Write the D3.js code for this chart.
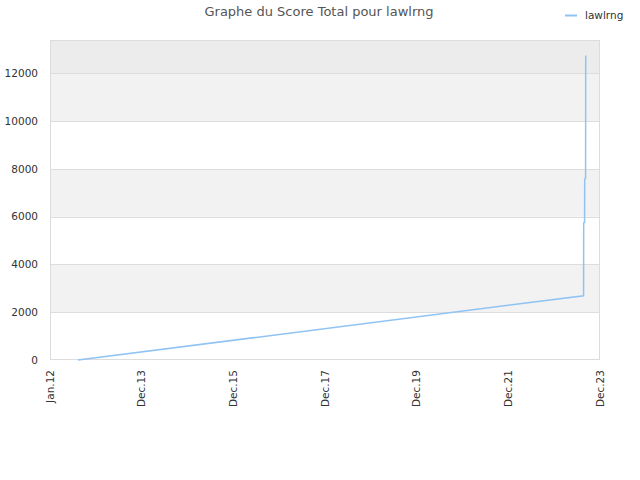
<!DOCTYPE html>
<html><head><meta charset="utf-8">
<script src="https://cdn.jsdelivr.net/npm/d3@7"></script>
<style>body{margin:0;background:#fff}svg{display:block;font-family:"DejaVu Sans",sans-serif}</style>
</head><body><svg id="c" width="640" height="480"></svg>
<script>
const title = "Graphe du Score Total pour lawlrng";
const seriesName = "lawlrng";
const dates = ["2012-08-09","2023-07-24","2023-07-25","2023-08-01","2023-08-02","2023-08-09","2023-08-10"];
const scores = [0, 2690, 5740, 5760, 7570, 7600, 12750];
const xDomain = ["2012-01-01","2023-12-01"];
const xTickLabels = ["Jan.12","Dec.13","Dec.15","Dec.17","Dec.19","Dec.21","Dec.23"];
const yTicks = [0,2000,4000,6000,8000,10000,12000];
const yMax = 13400;

const svg = d3.select("#c");
const L=50,R=600,T=40,B=360;
const parse = d3.timeParse("%Y-%m-%d");
const x = d3.scaleTime().domain(xDomain.map(parse)).range([L,R]);
const y = d3.scaleLinear().domain([0,yMax]).range([B,T]);

// bands
const bandEdges = yTicks.concat([yMax]);
for(let i=0;i<bandEdges.length-1;i++){
  let fill = i%2===1 ? "#f2f2f2" : "#ffffff";
  if(i===bandEdges.length-2) fill="#ececec";
  svg.append("rect").attr("x",L).attr("width",R-L)
    .attr("y",y(bandEdges[i+1])).attr("height",y(bandEdges[i])-y(bandEdges[i+1])).attr("fill",fill);
}
// grid
svg.append("g").selectAll("line").data(yTicks.slice(1)).join("line")
  .attr("x1",L).attr("x2",R).attr("y1",d=>Math.round(y(d))+0.5).attr("y2",d=>Math.round(y(d))+0.5)
  .attr("stroke","#dddddd");
// border
svg.append("rect").attr("x",L+0.5).attr("y",T+0.5).attr("width",R-L-1).attr("height",B-T-1)
  .attr("fill","none").attr("stroke","#dcdcdc");

// y labels
svg.append("g").selectAll("text").data(yTicks).join("text")
  .attr("x",38).attr("y",d=>y(d)).attr("dy","0.35em").attr("text-anchor","end")
  .attr("font-size",10.5).attr("fill","#333").text(d=>d);

// x labels
const [d0,d1] = x.domain();
const xTickDates = xTickLabels.map((_,i)=>new Date(+d0 + i*(d1-d0)/(xTickLabels.length-1)));
svg.append("g").selectAll("text").data(xTickLabels).join("text")
  .attr("transform",(d,i)=>`translate(${x(xTickDates[i])},370) rotate(-90)`)
  .attr("dy","0.35em").attr("text-anchor","end")
  .attr("font-size",10.5).attr("fill","#333").text(d=>d);

// line
const data = dates.map((d,i)=>({d:parse(d),v:scores[i]}));
svg.append("path").datum(data)
  .attr("d",d3.line().x(p=>x(p.d)).y(p=>y(p.v)))
  .attr("fill","none").attr("stroke","#8fc3f4").attr("stroke-width",1.5);

// title
svg.append("text").attr("x",319).attr("y",16).attr("text-anchor","middle")
  .attr("font-size",13).attr("fill","#555").text(title);

// legend
svg.append("line").attr("x1",565).attr("x2",577).attr("y1",15.5).attr("y2",15.5)
  .attr("stroke","#8fc3f4").attr("stroke-width",2);
svg.append("text").attr("x",585).attr("y",15).attr("dy","0.35em")
  .attr("font-size",10.5).attr("fill","#333").text(seriesName);
</script></body></html>
